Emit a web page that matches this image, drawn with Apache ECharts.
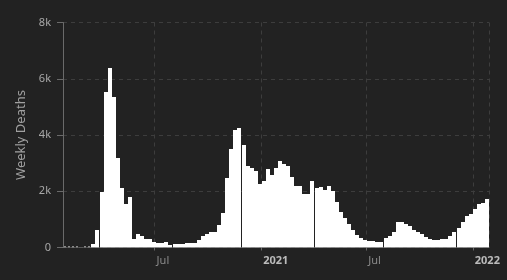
<!DOCTYPE html>
<html>
<head>
<meta charset="utf-8">
<script src="https://cdn.jsdelivr.net/npm/echarts@6/dist/echarts.min.js"></script>
<style>
html,body{margin:0;padding:0;background:#222;}
#chart{width:507px;height:280px;}
</style>
</head>
<body>
<div id="chart"></div>
<script>
// First week (centre of first weekly bar); one bar per week after it
var firstWeek = [2020, 0, 28];
var weeklyDeaths = [
  5, 5, 5, 5, 0, 5, 10,
  114, 622, 1975, 5535, 6380, 5350, 3180, 2120, 1545, 1800,
  305, 490, 415, 300, 300, 210, 160, 150, 190, 100,
  125, 125, 125, 170, 170, 170, 265, 410, 475, 545,
  545, 800, 1225, 2465, 3495, 4170, 4240, 3640, 2890, 2815,
  2720, 2250, 2360, 2785, 2575, 2820, 3070, 2965, 2895, 2500,
  2185, 2185, 1900, 1900, 2360, 2110, 2145, 2040, 2185, 2000,
  1610, 1265, 1037, 835, 620, 430, 355, 265, 225, 225,
  190, 190, 330, 400, 560, 920, 920, 835, 765, 620,
  550, 475, 380, 300, 265, 265, 300, 300, 400, 550,
  705, 920, 1120, 1190, 1360, 1535, 1595, 1735
];
var yTicks = [0, 2000, 4000, 6000, 8000];
var yName = 'Weekly Deaths';

var DAY = 86400000;
var weeks = weeklyDeaths.map(function (v, i) {
  var d = new Date(firstWeek[0], firstWeek[1], firstWeek[2] + 7 * i, 12);
  return [d.getTime(), v];
});
var xMin = weeks[0][0] - 3.5 * DAY;
var xMax = weeks[weeks.length - 1][0] + 3.5 * DAY;

var chart = echarts.init(document.getElementById('chart'), null, {renderer: 'canvas'});
var font = 'Noto Sans';
chart.setOption({
  backgroundColor: '#222',
  animation: false,
  textStyle: {fontFamily: font},
  grid: {left: 63, right: 18, top: 22.5, bottom: 32.5},
  xAxis: [{
    type: 'time',
    min: xMin,
    max: xMax,
    splitNumber: 4,
    minInterval: 180 * DAY,
    axisLine: {show: false},
    axisTick: {show: true, length: 3, lineStyle: {color: '#666'}},
    splitLine: {show: true, lineStyle: {color: '#3d3d3d', type: [4, 4]}},
    axisLabel: {
      margin: 8,
      align: 'left',
      padding: [0, 0, 0, 2],
      fontSize: 11,
      fontFamily: font,
      color: '#8a8a8a',
      formatter: {year: '{y|{yyyy}}', month: '{m|{MMM}}', day: '{m|{MMM}}'},
      rich: {
        y: {color: '#bbbbbb', fontWeight: 'bold', fontSize: 11, fontFamily: font},
        m: {color: '#8a8a8a', fontSize: 11, fontFamily: font}
      }
    },
    z: 0
  }, {
    type: 'time',
    min: xMin,
    max: xMax,
    position: 'bottom',
    axisLine: {show: true, lineStyle: {color: 'rgba(128,128,128,0.42)', width: 1}},
    axisTick: {show: false},
    axisLabel: {show: false},
    splitLine: {show: false},
    z: 5
  }],
  yAxis: {
    type: 'value',
    min: yTicks[0],
    max: yTicks[yTicks.length - 1],
    interval: yTicks[1] - yTicks[0],
    name: yName,
    nameLocation: 'middle',
    nameGap: 25,
    nameTextStyle: {color: '#a0a0a0', fontSize: 13, fontFamily: font},
    axisLine: {show: true, lineStyle: {color: '#6a6a6a'}},
    axisTick: {show: true, length: 6, lineStyle: {color: '#6a6a6a'}},
    splitLine: {show: true, lineStyle: {color: '#3d3d3d', type: [4, 4]}},
    axisLabel: {
      margin: 12,
      fontSize: 11,
      fontFamily: font,
      color: '#a8a8a8',
      formatter: function (v) { return v === 0 ? '0' : (v / 1000) + 'k'; }
    }
  },
  series: [{
    type: 'custom',
    xAxisIndex: 0,
    clip: true,
    data: weeks,
    encode: {x: 0, y: 1},
    z: 2,
    renderItem: function (params, api) {
      var t = api.value(0), v = api.value(1);
      if (!v) return null;
      var pTop = api.coord([t - 3.5 * DAY, v]);
      var pBase = api.coord([t + 3.5 * DAY, 0]);
      var x0 = Math.round(pTop[0]);
      var w = Math.floor(pBase[0] - pTop[0]);
      var base = Math.round(pBase[1]) + 1;
      var tiny = v < 50;
      var top = Math.min(Math.round(pTop[1]), base - (tiny ? 3 : 1));
      var shape = echarts.graphic.clipRectByRect({x: x0 + (tiny ? 1 : 0), y: top, width: w - (tiny ? 2 : 0), height: base - top}, {
        x: params.coordSys.x, y: params.coordSys.y - 5,
        width: params.coordSys.width, height: params.coordSys.height + 10
      });
      return shape && {type: 'rect', shape: shape, style: {fill: tiny ? '#8a8a8a' : '#ffffff'}};
    }
  }]
});
</script>
</body>
</html>
